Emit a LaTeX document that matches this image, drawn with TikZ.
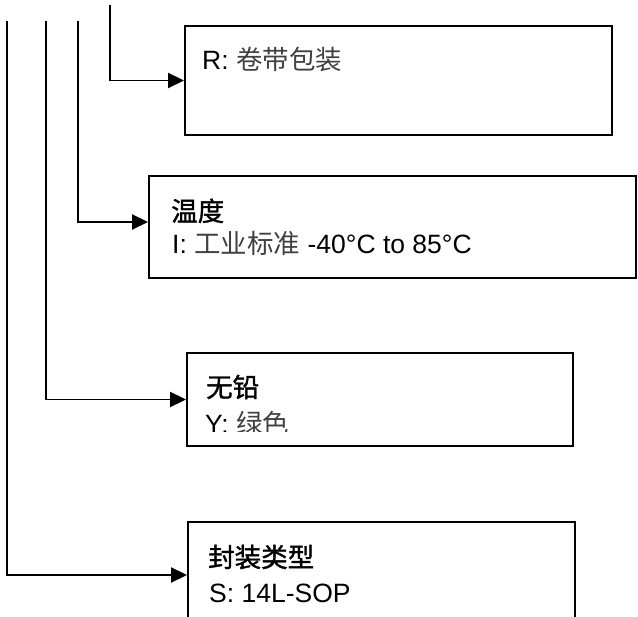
\documentclass[tikz,border=0pt]{standalone}
\usepackage{fontspec}
\setmainfont{Liberation Sans}
\newfontfamily\cjk{Noto Sans CJK SC}
\newfontfamily\cjkhead{Noto Sans CJK SC}[FakeBold=1.3]
\usetikzlibrary{arrows.meta}
\begin{document}
\begin{tikzpicture}[x=1pt,y=-1pt,
  boxstyle/.style={draw=black, line width=1.9pt, rectangle, inner sep=0pt},
  conn/.style={line width=1.9pt, -{Triangle[length=16pt,width=15pt]}},
  txt/.style={anchor=base west, inner sep=0pt, font=\fontsize{26.5}{31}\selectfont},
  light/.style={text=black!70}
]
\useasboundingbox (0,0) rectangle (638,617);
% boxes
\node[boxstyle, minimum width=427pt, minimum height=109pt] (b1) at (398.5,80.5) {};
\node[boxstyle, minimum width=487pt, minimum height=102pt] (b2) at (392.5,227) {};
\node[boxstyle, minimum width=386pt, minimum height=93pt] (b3) at (380,399.5) {};
\node[boxstyle, minimum width=387pt, minimum height=118pt] (b4) at (381.5,581) {};
% texts
\node[txt] (t1) at (202,70) {R: {\cjk\color{black!75}卷带包装}};
\node[txt] (t2a) at (171,221) {{\cjkhead 温度}};
\node[txt] (t2b) at (172,254) {I: {\cjk\color{black!75}工业标准} -40°C to 85°C};
\node[txt] (t3a) at (206,397) {{\cjkhead 无铅}};
\begin{scope}
  \clip (187,353) rectangle (573,432);
  \node[txt] (t3b) at (205,434) {Y: {\cjk\color{black!75}绿色}};
\end{scope}
\node[txt] (t4a) at (208,567) {{\cjkhead 封装类型}};
\node[txt] (t4b) at (209,603) {S: 14L-SOP};
% connectors
\coordinate (s1) at (7,21);
\coordinate (s2) at (46,21);
\coordinate (s3) at (78,21);
\coordinate (s4) at (110,5);
\coordinate (y2) at (0,222);
\coordinate (y4) at (0,575);
\draw[conn] (s4) |- (b1.west);
\draw[conn] (s3) |- (b2.west |- y2);
\draw[conn] (s2) |- (b3.west);
\draw[conn] (s1) |- (b4.west |- y4);
\end{tikzpicture}
\end{document}
